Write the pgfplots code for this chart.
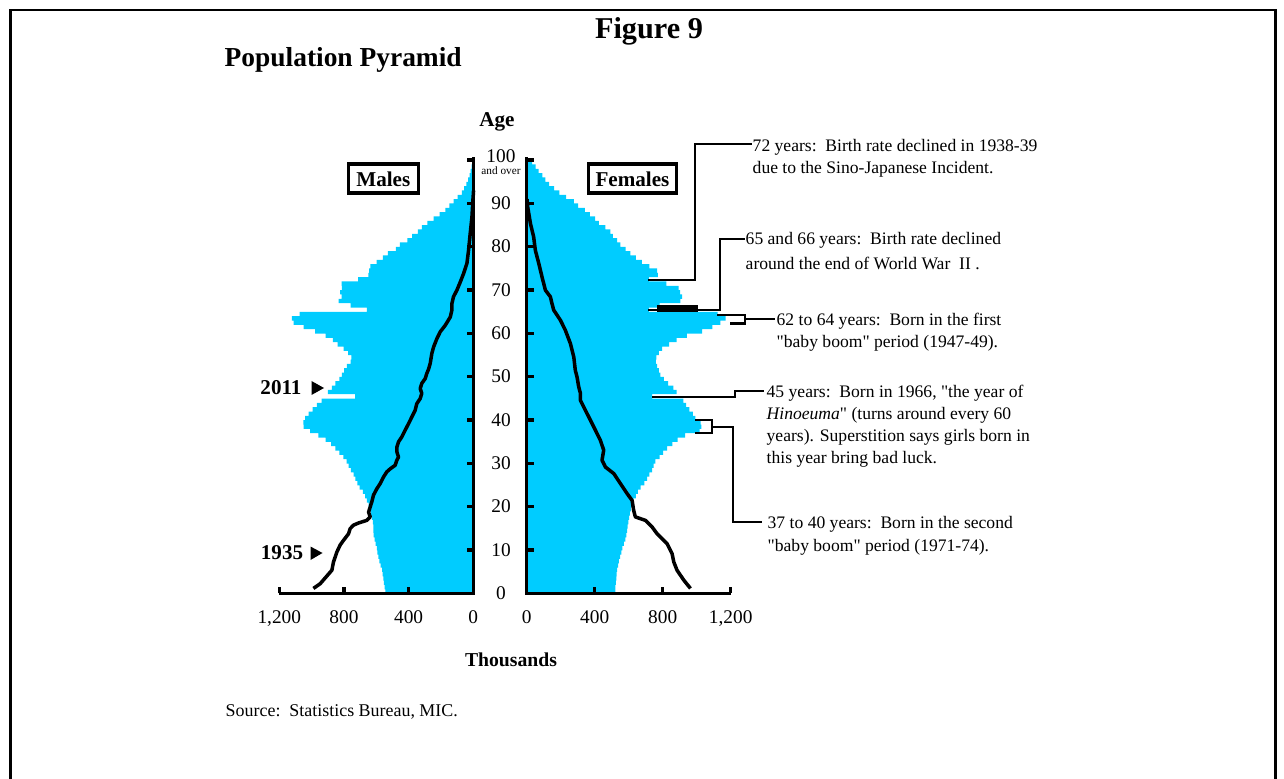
\documentclass[border=0pt]{standalone}
\usepackage{pgfplots}
\pgfplotsset{compat=1.18}
\usepackage{pgfplotstable}
\usepackage{fontspec}
\setmainfont{Liberation Serif}[Ligatures=TeXOff]
\definecolor{pyr}{RGB}{0,204,255}

% 2011 population by single age (thousands), bar centre = age + 0.5
\pgfplotstableread{
a m f
0.5 546 520
1.5 550 520
2.5 555 522
3.5 558 525
4.5 562 527
5.5 566 530
6.5 575 535
7.5 582 540
8.5 588 548
9.5 594 555
10.5 598 560
11.5 605 570
12.5 612 578
13.5 618 584
14.5 619 588
15.5 619 592
16.5 622 596
17.5 628 600
18.5 635 605
19.5 642 610
20.5 649 618
21.5 660 625
22.5 670 640
23.5 685 652
24.5 705 668
25.5 718 690
26.5 730 706
27.5 742 720
28.5 758 735
29.5 773 745
30.5 785 755
31.5 805 780
32.5 830 800
33.5 855 824
34.5 880 855
35.5 915 885
36.5 960 930
37.5 1010 1015
38.5 1050 1025
39.5 1052 1020
40.5 1041 990
41.5 1020 975
42.5 995 955
43.5 969 935
44.5 940 920
45.5 732 735
46.5 900 880
47.5 876 860
48.5 855 830
49.5 830 805
50.5 814 784
51.5 800 775
52.5 784 765
53.5 760 757
54.5 755 760
55.5 775 775
56.5 804 795
57.5 840 835
58.5 870 880
59.5 915 940
60.5 980 1030
61.5 1050 1090
62.5 1113 1137
63.5 1124 1167
64.5 1075 1120
65.5 660 716
66.5 760 780
67.5 835 902
68.5 815 912
69.5 825 900
70.5 814 892
71.5 815 820
72.5 713 716
73.5 650 770
74.5 645 765
75.5 638 720
76.5 600 676
77.5 560 640
78.5 530 608
79.5 480 580
80.5 455 549
81.5 410 530
82.5 380 505
83.5 345 490
84.5 320 460
85.5 285 422
86.5 247 400
87.5 210 370
88.5 175 340
89.5 150 300
90.5 124 275
91.5 98 230
92.5 72 190
93.5 58 160
94.5 45 130
95.5 33 108
96.5 25 90
97.5 18 69
98.5 12 50
99.5 8 30
}\pyramid

% 1935 pyramid outline (thousands, age)
\pgfplotstableread{
v a
990 1.2
948 2.3
876 5.4
866 7.3
845 9.6
825 11.2
804 12.3
773 13.8
763 15
742 15.8
711 16.3
660 16.9
639 17.7
649 18.8
639 20
629 21.2
619 22.7
598 24.2
577 25.4
557 26.9
536 28.1
515 28.8
485 29.6
474 30.8
464 31.5
474 32.7
474 33.8
464 35
443 36.2
423 37.7
402 39.2
381 40.8
361 42.3
351 43.8
330 45
320 46.2
330 47.3
320 48.5
299 49.6
289 50.8
278 51.8
268 53.1
258 55.4
247 56.9
227 58.8
206 60.4
175 61.9
144 63.8
134 65.4
134 66.9
124 68.5
103 70
82 71.9
62 73.8
41 76.2
31 79.2
21 83
10 86.9
4 90.8
0 93
}\maleold

\pgfplotstableread{
v a
961 1.2
922 3.1
882 5.4
863 7.3
853 9.2
824 11.5
765 13.8
735 15.4
696 16.9
637 17.7
627 19.2
618 21.5
588 23.1
549 25.4
510 27.7
461 29.2
441 30.8
451 33.1
431 35.4
402 37.7
373 40
343 42.3
314 44.6
314 46.2
304 47.7
294 50
284 51.5
275 54.6
255 57.7
225 60.8
196 63.1
157 65.4
147 66.9
137 68.5
108 70
88 73.1
69 76.2
49 79.2
39 82.3
20 85.4
4 89.2
0 91
}\femaleold

\begin{document}
\begin{tikzpicture}
\pgfplotsset{pyr axis/.style={scale only axis, height=4.333cm, xmin=0, xmax=1200,
    ymin=0, ymax=100, hide axis, clip=false}}

% Males
\begin{axis}[pyr axis, at={(4.733cm,-5.933cm)}, anchor=south east, width=1.94cm, x dir=reverse]
\addplot[xbar, bar width=1, bar shift=0pt, fill=pyr, draw=none] table[x=m, y=a] {\pyramid};
\addplot[black, line width=1pt, line join=round] table[x=v, y=a] {\maleold};
\end{axis}

% Females
\begin{axis}[pyr axis, at={(5.267cm,-5.933cm)}, anchor=south west, width=2.04cm]
\addplot[xbar, bar width=1, bar shift=0pt, fill=pyr, draw=none] table[x=f, y=a] {\pyramid};
\addplot[black, line width=1pt, line join=round] table[x=v, y=a] {\femaleold};
\end{axis}

\begin{scope}[x=0.01cm, y=-0.01cm]
\path[use as bounding box] (0,0) rectangle (1284,779);
% frame
\draw[line width=0.8pt] (10.5,800) -- (10.5,10) -- (1275.5,10) -- (1275.5,800);

% axis lines and ticks
\draw[line width=0.9pt] (279.3,593.3) -- (473.3,593.3) -- (473.3,157);
\draw[line width=0.9pt] (730.7,593.3) -- (526.7,593.3) -- (526.7,157);
\foreach \x in {279.3,344.0,408.6} \draw[line width=0.9pt] (\x,593.3) -- (\x,587);
\foreach \x in {594.7,662.7,730.7} \draw[line width=0.9pt] (\x,593.3) -- (\x,587);
\foreach \k in {1,...,10} {
  \draw[line width=0.9pt] (473.3,593.3-43.33*\k) -- (466.5,593.3-43.33*\k);
  \draw[line width=0.9pt] (526.7,593.3-43.33*\k) -- (533.5,593.3-43.33*\k);
}

% age labels
\begin{scope}[font=\fontsize{5.5}{6.6}\selectfont]
\foreach \k in {0,1,...,9} \node at (501,593.3-43.33*\k) {\pgfmathparse{int(10*\k)}\pgfmathresult};
\node at (501,156) {100};
\node[font=\fontsize{3.2}{3.8}\selectfont] at (501,170.5) {and over};
\foreach \x/\l in {279.3/{1,200},344.0/800,408.6/400,473.3/0,526.7/0,594.7/400,662.7/800,730.7/{1,200}}
  \node[anchor=base, inner sep=0] at (\x,623.5) {\l};
\end{scope}

% titles
\node[font=\fontsize{8.6}{10}\selectfont\bfseries] at (649,31) {Figure 9};
\node[font=\fontsize{7.8}{9}\selectfont\bfseries, anchor=west, inner sep=0] at (224,60) {Population Pyramid};
\node[font=\fontsize{6}{7}\selectfont\bfseries] at (497,122) {Age};
\node[font=\fontsize{5.6}{7}\selectfont\bfseries] at (511,660) {Thousands};
\node[font=\fontsize{5.1}{6}\selectfont, anchor=west, inner sep=0] at (225,712) {Source:\ \ Statistics Bureau, MIC.};

% sex boxes
\draw[line width=1pt] (348.3,164) rectangle (418.3,193);
\node[font=\fontsize{6}{7}\selectfont\bfseries] at (383.3,179) {Males};
\draw[line width=1pt] (588.3,164) rectangle (676.7,193);
\node[font=\fontsize{6}{7}\selectfont\bfseries] at (632.5,179) {Females};

% year markers
\node[font=\fontsize{6}{7}\selectfont\bfseries] at (281,388) {2011};
\fill (311.5,381) -- (311.5,395) -- (324,388) -- cycle;
\node[font=\fontsize{6}{7}\selectfont\bfseries] at (282,553) {1935};
\fill (310.5,546.5) -- (310.5,560) -- (322.5,553) -- cycle;

% annotations
\begin{scope}[line width=0.75pt]
\draw (648,280) -- (695,280) -- (695,144) -- (752,144);
\draw (648,310) -- (720,310) -- (720,239) -- (745,239);
\fill (657,305) rectangle (698,312);
\draw (717,315) -- (745,315) -- (745,323.5) -- (730,323.5);
\draw (745,319) -- (775,319);
\draw (652,397) -- (735,397) -- (735,391) -- (764,391);
\draw (695,420) -- (712,420) -- (712,433) -- (695,433);
\draw (712,427) -- (733,427) -- (733,522) -- (762,522);
\end{scope}

\begin{scope}[font=\fontsize{5}{6}\selectfont, every node/.style={anchor=west, inner sep=0}]
\node at (752,147) {72 years:\ \ Birth rate declined in 1938-39};
\node at (752,169) {due to the Sino-Japanese Incident.};
\node at (745,240) {65 and 66 years:\ \ Birth rate declined};
\node at (745,263) {around the end of World War\ \ II\ .};
\node at (776,321) {62 to 64 years:\ \ Born in the first};
\node at (776,343) {"baby boom" period (1947-49).};
\node at (766,393) {45 years:\ \ Born in 1966, "the year of};
\node at (766,415) {\textit{Hinoeuma}" (turns around every 60};
\node at (766,437) {years). Superstition says girls born in};
\node at (766,459) {this year bring bad luck.};
\node at (767,524) {37 to 40 years:\ \ Born in the second};
\node at (767,547) {"baby boom" period (1971-74).};
\end{scope}
\end{scope}
\end{tikzpicture}
\end{document}
